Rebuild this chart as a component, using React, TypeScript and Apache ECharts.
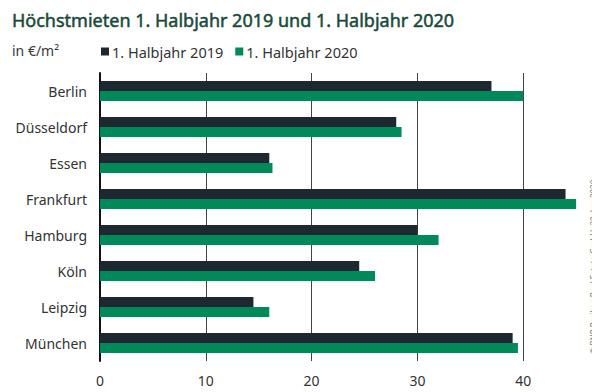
import React, { useEffect, useRef } from "react";
import * as echarts from "echarts";

const cities = ["Berlin", "Düsseldorf", "Essen", "Frankfurt", "Hamburg", "Köln", "Leipzig", "München"];
const values2019 = [37, 28, 16, 44, 30, 24.5, 14.5, 39];
const values2020 = [40, 28.5, 16.3, 45, 32, 26, 16, 39.5];
const seriesNames = ["1. Halbjahr 2019", "1. Halbjahr 2020"];
const titleText = "Höchstmieten 1. Halbjahr 2019 und 1. Halbjahr 2020";
const unitText = "in €/m²";
const sourceText = "© BNP Paribas Real Estate GmbH, 30. Jun 2020";

const FONT = "'Noto Sans', sans-serif";

export default function App() {
  const ref = useRef<HTMLDivElement>(null);
  useEffect(() => {
    if (!ref.current) return;
    const chart = echarts.init(ref.current, null, { renderer: "svg" });
    chart.setOption({
      animation: false,
      backgroundColor: "#ffffff",
      color: ["#1d2830", "#008a5a"],
      title: {
        text: titleText,
        left: -1,
        top: -2,
        textStyle: {
          fontFamily: FONT,
          fontSize: 18,
          fontWeight: "normal",
          color: "#1b4a3b",
          textBorderColor: "#1b4a3b",
          textBorderWidth: 0.5,
        },
      },
      legend: {
        data: seriesNames,
        left: 88,
        top: 31,
        icon: "rect",
        itemWidth: 8,
        itemHeight: 8,
        itemGap: 12,
        textStyle: { fontFamily: FONT, fontSize: 14.5, color: "#333", padding: [0, 0, 0, -2] },
      },
      graphic: [
        {
          type: "text",
          left: 4,
          top: 35,
          style: { text: unitText, font: `14px ${FONT}`, fill: "#3a3a3a" },
        },
        {
          type: "text",
          x: 585,
          y: 259,
          rotation: Math.PI / 2,
          style: {
            text: sourceText,
            font: `8px ${FONT}`,
            fill: "#777",
            align: "center",
            verticalAlign: "middle",
          },
        },
      ],
      grid: { left: 92, top: 65, width: 486.7, height: 288, containLabel: false },
      xAxis: {
        type: "value",
        min: 0,
        max: 46,
        interval: 10,
        axisLine: { show: false },
        axisTick: { show: false },
        axisLabel: {
          showMaxLabel: false,
          margin: 12,
          fontFamily: FONT,
          fontSize: 14,
          color: "#333",
        },
        splitLine: {
          show: true,
          showMinLine: false,
          showMaxLine: false,
          lineStyle: { color: "#444", width: 1 },
        },
      },
      yAxis: {
        type: "category",
        data: cities,
        inverse: true,
        axisLine: { show: true, lineStyle: { color: "#111", width: 2 } },
        axisTick: { show: false },
        axisLabel: { margin: 13, fontFamily: FONT, fontSize: 14, color: "#333" },
      },
      series: [
        {
          name: seriesNames[0],
          type: "bar",
          data: values2019,
          barWidth: 10,
          barGap: "0%",
        },
        {
          name: seriesNames[1],
          type: "bar",
          data: values2020,
          barWidth: 10,
          barGap: "0%",
        },
      ],
    });
    return () => chart.dispose();
  }, []);
  return <div ref={ref} style={{ width: 600, height: 392 }} />;
}
